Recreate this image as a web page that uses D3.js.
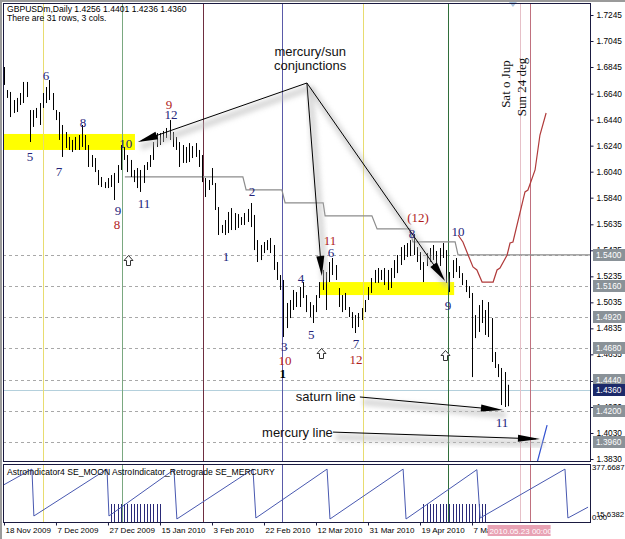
<!DOCTYPE html>
<html>
<head>
<meta charset="utf-8">
<script src="https://cdn.jsdelivr.net/npm/d3@7"></script>
<style>
  body { margin: 0; background: #fff; }
  svg { display: block; }
</style>
</head>
<body>
<div id="chart"></div>
<script>
// ---- data (bar index = trading day since 18 Nov 2009) ----
const tickIndex  = [0, 16, 32, 48, 64, 80, 96, 112, 128, 144];
const tickLabels = ["18 Nov 2009", "7 Dec 2009", "27 Dec 2009", "15 Jan 2010", "3 Feb 2010",
                    "22 Feb 2010", "12 Mar 2010", "31 Mar 2010", "19 Apr 2010", "7 May 2010"];

const highs = [1.6845,1.6668,1.6653,1.6591,1.6607,1.6645,1.6730,1.6730,1.6514,1.6514,
  1.6530,1.6568,1.6645,1.6691,1.6745,1.6645,1.6514,1.6499,1.6399,1.6345,
  1.6307,1.6284,1.6307,1.6322,1.6399,1.6322,1.6245,1.6168,1.6145,1.6053,
  1.5999,1.5960,1.5991,1.6014,1.6030,1.6091,1.6245,1.6230,1.6168,1.6130,
  1.6053,1.6068,1.6053,1.6091,1.6114,1.6168,1.6268,1.6337,1.6337,1.6353,
  1.6376,1.6437,1.6345,1.6307,1.6268,1.6245,1.6230,1.6260,1.6237,1.6260,
  1.6207,1.6168,1.5991,1.5976,1.6068,1.5953,1.5768,1.5630,1.5668,1.5730,
  1.5760,1.5722,1.5714,1.5691,1.5722,1.5753,1.5799,1.5707,1.5514,1.5476,
  1.5499,1.5514,1.5530,1.5476,1.5345,1.5245,1.5207,1.5030,1.5053,1.5130,
  1.5114,1.5153,1.5191,1.5091,1.5037,1.5014,1.5091,1.5191,1.5284,1.5268,
  1.5345,1.5376,1.5322,1.5145,1.5091,1.5107,1.4999,1.4960,1.4937,1.4953,
  1.4991,1.5053,1.5153,1.5222,1.5284,1.5299,1.5284,1.5299,1.5284,1.5299,
  1.5360,1.5399,1.5460,1.5476,1.5491,1.5514,1.5560,1.5460,1.5422,1.5345,
  1.5414,1.5453,1.5476,1.5430,1.5453,1.5491,1.5437,1.5268,1.5360,1.5376,
  1.5314,1.5260,1.5207,1.5160,1.5107,1.4937,1.5014,1.5053,1.4976,1.5037,
  1.4914,1.4653,1.4560,1.4530,1.4499,1.4401];
const lows = [1.6707,1.6607,1.6460,1.6491,1.6499,1.6553,1.6568,1.6614,1.6268,1.6384,
  1.6453,1.6399,1.6530,1.6568,1.6591,1.6514,1.6437,1.6284,1.6153,1.6222,
  1.6207,1.6191,1.6207,1.6207,1.6230,1.6207,1.6076,1.6076,1.6037,1.5937,
  1.5922,1.5914,1.5914,1.5922,1.5822,1.5953,1.6053,1.6130,1.6037,1.5999,
  1.5960,1.5914,1.5884,1.5953,1.6053,1.6076,1.6130,1.6230,1.6245,1.6268,
  1.6299,1.6284,1.6230,1.6207,1.6076,1.6107,1.6107,1.6114,1.6145,1.6153,
  1.6076,1.5960,1.5845,1.5899,1.5937,1.5745,1.5553,1.5568,1.5553,1.5568,
  1.5591,1.5591,1.5607,1.5630,1.5630,1.5653,1.5614,1.5437,1.5345,1.5360,
  1.5414,1.5437,1.5414,1.5284,1.5207,1.5130,1.4768,1.4837,1.4914,1.4976,
  1.4999,1.4999,1.5068,1.4960,1.4922,1.4876,1.4960,1.5068,1.5130,1.4976,
  1.5191,1.5245,1.5207,1.4999,1.4960,1.4976,1.4922,1.4837,1.4799,1.4845,
  1.4899,1.4960,1.5053,1.5107,1.5184,1.5184,1.5207,1.5168,1.5130,1.5145,
  1.5222,1.5260,1.5322,1.5360,1.5384,1.5391,1.5399,1.5345,1.5284,1.5191,
  1.5314,1.5345,1.5360,1.5307,1.5314,1.5376,1.5184,1.5114,1.5222,1.5268,
  1.5222,1.5168,1.5114,1.5068,1.4460,1.4760,1.4807,1.4876,1.4784,1.4768,
  1.4576,1.4530,1.4460,1.4245,1.4230,1.4236];

// gray stepped level line [index, price]
const stepLine = [[37.2,1.6000],[73.5,1.6000],[74.5,1.5900],[85.5,1.5900],[86.5,1.5800],
  [98.2,1.5800],[98.8,1.5700],[113.2,1.5700],[114.8,1.5600],[124.9,1.5600],[125.8,1.5500],
  [138.8,1.5500],[139.7,1.5400],[180.3,1.5400]];
// red projection curve
const projLine = [[139.7,1.5553],[141.2,1.5499],[142.8,1.5399],[144.3,1.5307],[145.5,1.5284],
  [147.1,1.5191],[150.5,1.5191],[151.7,1.5284],[152.6,1.5299],[154.8,1.5399],[155.7,1.5491],
  [156.6,1.5499],[160.3,1.5884],[161.2,1.5899],[163.4,1.6053],[164.9,1.6322],[166.8,1.6491]];
// blue mercury line end
const mercLine = [[163.9,1.3790],[167.1,1.4091]];

const priceTicks = [1.7245,1.7045,1.6845,1.6640,1.6440,1.6240,1.6040,1.5840,1.5635,1.5435,
  1.5235,1.5035,1.4835,1.4635,1.4430,1.4230,1.4030,1.3830];
const levelLines = [1.5400,1.5160,1.4920,1.4680,1.4440,1.4200,1.3960];
const lastPrice = 1.4360;

const vLineIdx = [12, 36.3, 61.2, 85.5, 110.5, 136.6, 158.8, 161.8];

// highlighted zones [i0, i1, pTop, pBottom]
const zones = [[-0.3, 40.3, 1.6330, 1.6207], [97.2, 138.5, 1.5191, 1.5091]];

// wave counts [text, index, price, red?]
const waveLabels = [
  ["6",12.9,1.6776,0],["5",8.0,1.6153,0],["8",24.3,1.6422,0],["7",16.9,1.6045,0],
  ["10",37.5,1.6260,0],["9",50.8,1.6560,1],["12",51.4,1.6476,0],["9",35.1,1.5745,0],
  ["8",34.8,1.5630,1],["11",43.1,1.5799,0],["2",76.3,1.5884,0],["1",68.3,1.5391,0],
  ["4",91.4,1.5222,0],["6",100.6,1.5422,0],["11",100.3,1.5514,1],["5",94.5,1.4784,0],
  ["3",86.2,1.4699,0],["10",86.5,1.4584,1],["7",108.3,1.4722,0],["12",108.3,1.4599,1],
  ["(12)",127.4,1.5684,1],["8",125.5,1.5568,0],["10",139.7,1.5576,0],["9",136.6,1.5014,0],
  ["11",153.2,1.4114,0]];
const upMarks = [[38.2,1.5360],[97.5,1.4645],[135.7,1.4630]];

// annotation arrows [from, to]
const conjApex = [93.2, 1.6722];
const conjTips = [[41.2,1.6268],[97.8,1.5237],[135.7,1.5199]];
const saturnArrow = [[109.5,1.4307],[153.5,1.4207]];
const mercuryArrow = [[101.2,1.4037],[164.9,1.3984]];

// moon longitude sub-window [index, degrees]
const moon = [[-0.3,243],[8.6,356],[9.2,28],[31.7,356],[32.3,28],[52.3,352],[53.2,7],
  [76.6,356],[77.5,14],[99.4,356],[100.3,7],[122.8,356],[123.7,7],[145.5,352],[146.5,14],
  [172.6,356],[173.5,14],[179.7,90]];
const retroRanges = [[33, 48], [129, 148]];

// ---- layout ----
const W = 625, H = 539;
const L = 3, R = 590, mainTop = 3, mainBot = 461, subTop = 464, subBot = 522;
const sans = "'Liberation Sans', Arial, sans-serif";
const serif = "'Liberation Serif', 'Times New Roman', serif";

const svg = d3.select("#chart").append("svg").attr("width", W).attr("height", H)
  .style("font-family", sans);

const x = d3.scaleLinear().domain([-0.3, 180.3]).range([L, R]);
const y = d3.scaleLinear().domain([1.3830, 1.7245]).range([459, 15]);
const ySub = d3.scaleLinear().domain([0, 377.6687]).range([520, 466]);

const defs = svg.append("defs");
defs.append("clipPath").attr("id", "clipMain").append("rect")
  .attr("x", L).attr("y", mainTop).attr("width", R - L).attr("height", mainBot - mainTop);
defs.append("clipPath").attr("id", "clipSub").append("rect")
  .attr("x", L).attr("y", subTop).attr("width", R - L).attr("height", subBot - subTop);
defs.append("filter").attr("id", "blur").attr("x", "-20%").attr("y", "-50%")
  .attr("width", "140%").attr("height", "200%")
  .append("feGaussianBlur").attr("stdDeviation", 2.5);

// frame
svg.append("rect").attr("x", 0).attr("y", 0).attr("width", W).attr("height", H).attr("fill", "#fff");
svg.append("rect").attr("x", 0).attr("y", 0).attr("width", W).attr("height", 2).attr("fill", "#9a9a9a");
svg.append("rect").attr("x", 0).attr("y", 0).attr("width", 2).attr("height", H).attr("fill", "#9a9a9a");

const main = svg.append("g").attr("clip-path", "url(#clipMain)");
const sub = svg.append("g").attr("clip-path", "url(#clipSub)");

// level dotted lines
main.selectAll(".lvl").data(levelLines).enter().append("line")
  .attr("x1", L).attr("x2", R)
  .attr("y1", d => Math.round(y(d)) + 0.5).attr("y2", d => Math.round(y(d)) + 0.5)
  .attr("stroke", "#a8a8a8").attr("stroke-dasharray", "3,3");
main.append("line").attr("x1", L).attr("x2", R)
  .attr("y1", Math.round(y(lastPrice)) + 0.5).attr("y2", Math.round(y(lastPrice)) + 0.5)
  .attr("stroke", "#b4d0dc");

// yellow zones
main.selectAll(".zone").data(zones).enter().append("rect")
  .attr("x", d => x(d[0])).attr("width", d => x(d[1]) - x(d[0]))
  .attr("y", d => y(d[2])).attr("height", d => y(d[3]) - y(d[2]))
  .attr("fill", "#ffff00");

// vertical lines across both windows
const vColors = ["#e8dc70", "#7aa880", "#6e2e40", "#5a5aa8", "#e8dc70", "#2f6e3a", "#e6c0c8", "#c0707e"];
[main, sub].forEach(g => {
  g.selectAll(".vl").data(vLineIdx).enter().append("line")
    .attr("x1", d => Math.round(x(d)) + 0.5).attr("x2", d => Math.round(x(d)) + 0.5)
    .attr("y1", 0).attr("y2", H)
    .attr("stroke", (d, i) => vColors[i]).attr("stroke-width", 1);
});

// gray step line
const line = d3.line().x(d => x(d[0])).y(d => y(d[1]));
main.append("path").attr("d", line(stepLine)).attr("fill", "none")
  .attr("stroke", "#8c8c8c").attr("stroke-width", 1.2);

// price bars
main.selectAll(".bar").data(highs).enter().append("line")
  .attr("x1", (d, i) => Math.round(x(i)) + 0.5).attr("x2", (d, i) => Math.round(x(i)) + 0.5)
  .attr("y1", d => y(d)).attr("y2", (d, i) => y(lows[i]))
  .attr("stroke", "#000").attr("stroke-width", 1);

// projection + mercury curves
main.append("path").attr("d", line(projLine)).attr("fill", "none")
  .attr("stroke", "#b03a3a").attr("stroke-width", 1.2);
main.append("path").attr("d", line(mercLine)).attr("fill", "none")
  .attr("stroke", "#2f4fd0").attr("stroke-width", 1.2);

// arrows with soft shadow
function arrow(from, to, headLen, headW) {
  const sx = x(from[0]), sy = y(from[1]), tx = x(to[0]), ty = y(to[1]);
  const dx = tx - sx, dy = ty - sy, len = Math.hypot(dx, dy);
  const ux = dx / len, uy = dy / len, nx = -uy, ny = ux;
  main.append("line").attr("x1", sx + 3).attr("y1", sy + 5).attr("x2", tx + 3).attr("y2", ty + 5)
    .attr("stroke", "#bbb").attr("stroke-width", 7).attr("opacity", 0.55).attr("filter", "url(#blur)");
  main.append("line").attr("x1", sx).attr("y1", sy).attr("x2", tx - ux * 4).attr("y2", ty - uy * 4)
    .attr("stroke", "#000").attr("stroke-width", 1);
  const bx = tx - ux * headLen, by = ty - uy * headLen;
  main.append("path")
    .attr("d", `M${tx},${ty}L${bx + nx * headW},${by + ny * headW}L${bx - nx * headW},${by - ny * headW}Z`)
    .attr("fill", "#000");
}
conjTips.forEach(t => arrow(conjApex, t, 20, 4));
arrow(saturnArrow[0], saturnArrow[1], 22, 3.5);
arrow(mercuryArrow[0], mercuryArrow[1], 22, 3.5);

// annotation texts
main.append("text").attr("x", x(94.2)).attr("y", y(1.6968)).attr("text-anchor", "middle")
  .attr("dominant-baseline", "central").attr("font-size", 13).attr("fill", "#111").text("mercury/sun");
main.append("text").attr("x", x(94.2)).attr("y", y(1.6853)).attr("text-anchor", "middle")
  .attr("dominant-baseline", "central").attr("font-size", 13).attr("fill", "#111").text("conjunctions");
main.append("text").attr("x", x(89.8)).attr("y", y(1.4307)).attr("dominant-baseline", "central")
  .attr("font-size", 13).attr("fill", "#111").text("saturn line");
main.append("text").attr("x", x(79.4)).attr("y", y(1.4037)).attr("dominant-baseline", "central")
  .attr("font-size", 13).attr("fill", "#111").text("mercury line");
[["Sat o Jup", 154.2, 1.6714], ["Sun 24 deg", 159.1, 1.6691]].forEach(t => {
  main.append("text").attr("transform", `translate(${x(t[1])},${y(t[2])}) rotate(-90)`)
    .attr("text-anchor", "middle").attr("dominant-baseline", "central")
    .attr("font-family", serif).attr("font-size", 13).attr("fill", "#111").text(t[0]);
});

// wave count labels
main.selectAll(".wl").data(waveLabels).enter().append("text")
  .attr("x", d => x(d[1])).attr("y", d => y(d[2]))
  .attr("text-anchor", "middle").attr("dominant-baseline", "central")
  .attr("font-family", serif).attr("font-size", 13)
  .attr("fill", d => d[3] ? "#b01c1c" : "#24247a").text(d => d[0]);
main.append("text").attr("x", x(85.8)).attr("y", y(1.4484))
  .attr("text-anchor", "middle").attr("dominant-baseline", "central")
  .attr("font-family", serif).attr("font-size", 13).attr("font-weight", "bold").attr("fill", "#000").text("1");

// hollow up arrows
main.selectAll(".up").data(upMarks).enter().append("path")
  .attr("transform", d => `translate(${Math.round(x(d[0])) + 0.5},${Math.round(y(d[1])) + 0.5})`)
  .attr("d", "M0,-5L4.5,0L2,0L2,5L-2,5L-2,0L-4.5,0Z")
  .attr("fill", "#fff").attr("stroke", "#333").attr("stroke-width", 1);

// header text
svg.append("text").attr("x", 7).attr("y", 12).attr("font-size", 8.6).attr("fill", "#000")
  .text("GBPUSDm,Daily  1.4256 1.4401 1.4236 1.4360");
svg.append("text").attr("x", 7).attr("y", 21).attr("font-size", 8.6).attr("fill", "#000")
  .text("There are 31 rows, 3 cols.");

// chart shift marker
svg.append("path").attr("d", `M${x(156.6) - 4},2L${x(156.6) + 4},2L${x(156.6)},7Z`).attr("fill", "#a8c4e0");

// ---- sub window ----
sub.selectAll(".retro").data(retroRanges.flatMap(r => d3.range(r[0], r[1] + 1))).enter().append("line")
  .attr("x1", d => Math.round(x(d)) + 0.5).attr("x2", d => Math.round(x(d)) + 0.5)
  .attr("y1", 504).attr("y2", subBot)
  .attr("stroke", "#2a2a78").attr("stroke-width", 1);
sub.append("path").attr("d", d3.line().x(d => x(d[0])).y(d => ySub(d[1]))(moon))
  .attr("fill", "none").attr("stroke", "#4858b0").attr("stroke-width", 1);
svg.append("text").attr("x", 7).attr("y", 475).attr("font-size", 8.6).attr("fill", "#000")
  .text("AstroIndicator4 SE_MOON  AstroIndicator_Retrograde SE_MERCURY");

// panel borders
svg.append("rect").attr("x", L + 0.5).attr("y", mainTop + 0.5).attr("width", R - L).attr("height", mainBot - mainTop)
  .attr("fill", "none").attr("stroke", "#1a1a40");
svg.append("rect").attr("x", L + 0.5).attr("y", subTop + 0.5).attr("width", R - L).attr("height", subBot - subTop)
  .attr("fill", "none").attr("stroke", "#1a1a40");

// right price axis
const yAxis = svg.append("g").attr("transform", `translate(${R + 0.5},0)`)
  .call(d3.axisRight(y).tickValues(priceTicks).tickFormat(d3.format(".4f")).tickSize(3).tickPadding(3));
yAxis.select(".domain").remove();
yAxis.selectAll("text").attr("font-size", 8.3).attr("font-family", sans).attr("fill", "#000");
yAxis.selectAll("line").attr("stroke", "#1a1a40");

// level boxes on axis
const boxes = levelLines.map(v => [v, "#8a9298"]).concat([[lastPrice, "#1c2a6a"]]);
const bx = svg.selectAll(".box").data(boxes).enter().append("g")
  .attr("transform", d => `translate(${R + 3},${Math.round(y(d[0]))})`);
bx.append("rect").attr("x", 0).attr("y", -6).attr("width", 32).attr("height", 12).attr("fill", d => d[1]);
bx.append("text").attr("x", 3).attr("y", 0).attr("dominant-baseline", "central")
  .attr("font-size", 8.3).attr("fill", "#fff").text(d => d3.format(".4f")(d[0]));

// sub window scale labels
svg.append("text").attr("x", R + 2).attr("y", 470).attr("font-size", 7.8).text("377.6687");
svg.append("text").attr("x", R + 6).attr("y", 517).attr("font-size", 7.8).text("15.6382");
svg.append("text").attr("x", R + 2).attr("y", 520).attr("font-size", 7.8).text("0.00");

// bottom time axis
const xAxis = svg.append("g").attr("transform", `translate(0,${subBot + 0.5})`)
  .call(d3.axisBottom(x).tickValues(tickIndex).tickFormat((d, i) => tickLabels[i]).tickSize(3).tickPadding(2));
xAxis.select(".domain").remove();
xAxis.selectAll("line").attr("stroke", "#1a1a40");
xAxis.selectAll("text").attr("text-anchor", "start").attr("dx", 1)
  .attr("font-size", 8).attr("font-family", sans).attr("fill", "#000");

// highlighted date tag
const tag = svg.append("g").attr("transform", `translate(${x(148.8)},${subBot + 3})`);
tag.append("rect").attr("x", 0).attr("y", 0).attr("width", 63).attr("height", 11).attr("fill", "#e8a2b4");
tag.append("text").attr("x", 2).attr("y", 9).attr("font-size", 8).attr("fill", "#fff").text("2010.05.23 00:00");
</script>
</body>
</html>
